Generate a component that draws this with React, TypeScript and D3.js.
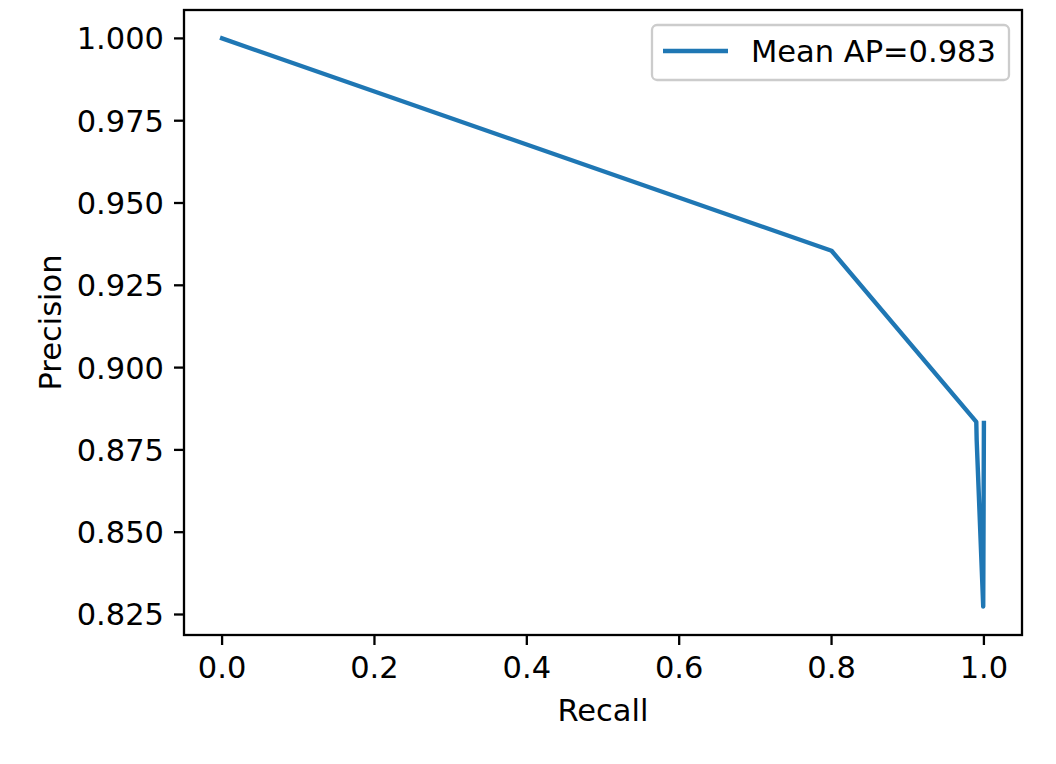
import React from "react";
import * as d3 from "d3";

const recall = [0.0, 0.8, 0.99, 0.9905, 0.9991, 1.0];
const precision = [1.0, 0.9355, 0.8835, 0.878, 0.8274, 0.8832];
const xTicks = [0.0, 0.2, 0.4, 0.6, 0.8, 1.0];
const yTicks = [0.825, 0.85, 0.875, 0.9, 0.925, 0.95, 0.975, 1.0];
const legendLabel = "Mean AP=0.983";

const W = 1056, H = 764;
const L = 184, R = 1022, T = 10, B = 635;
const FS = 30.5;
const FONT = "DejaVu Sans, sans-serif";

export default function App() {
  const xmin = d3.min(recall)!, xmax = d3.max(recall)!;
  const ymin = d3.min(precision)!, ymax = d3.max(precision)!;
  const xm = (xmax - xmin) * 0.05, ym = (ymax - ymin) * 0.05;
  const x = d3.scaleLinear().domain([xmin - xm, xmax + xm]).range([L, R]);
  const y = d3.scaleLinear().domain([ymin - ym, ymax + ym]).range([B, T]);
  const line = d3.line<number>().x((_, i) => x(recall[i])).y((d) => y(d));
  const path = line(precision) || "";
  const tl = 10;
  return (
    <svg width={W} height={H} style={{ position: "absolute", left: 0, top: 0, background: "#fff" }} fontFamily={FONT}>
      <rect x={0} y={0} width={W} height={H} fill="#fff" />
      <path d={path} fill="none" stroke="#1f77b4" strokeWidth={4.4} strokeLinejoin="round" strokeLinecap="square" />
      <rect x={L} y={T} width={R - L} height={B - T} fill="none" stroke="#000" strokeWidth={2.3} />
      {xTicks.map((t) => (
        <g key={"x" + t}>
          <line x1={x(t)} x2={x(t)} y1={B} y2={B + tl} stroke="#000" strokeWidth={2.3} />
          <text x={x(t)} y={678} textAnchor="middle" fontSize={FS} fill="#000">{t.toFixed(1)}</text>
        </g>
      ))}
      {yTicks.map((t) => (
        <g key={"y" + t}>
          <line x1={L - tl} x2={L} y1={y(t)} y2={y(t)} stroke="#000" strokeWidth={2.3} />
          <text x={L - 2 * tl} y={y(t)} dy="0.36em" textAnchor="end" fontSize={FS} fill="#000">{t.toFixed(3)}</text>
        </g>
      ))}
      <text x={(L + R) / 2} y={721} textAnchor="middle" fontSize={FS} fill="#000">Recall</text>
      <text transform={`translate(61,${(T + B) / 2}) rotate(-90)`} textAnchor="middle" fontSize={FS} fill="#000">Precision</text>
      <g>
        <rect x={652} y={25} width={357} height={55} rx={5} ry={5} fill="#fff" fillOpacity={0.8} stroke="#cccccc" strokeWidth={2.3} />
        <line x1={663} x2={728} y1={51} y2={51} stroke="#1f77b4" strokeWidth={4.4} />
        <text x={751} y={62} fontSize={FS} fill="#000">{legendLabel}</text>
      </g>
    </svg>
  );
}
